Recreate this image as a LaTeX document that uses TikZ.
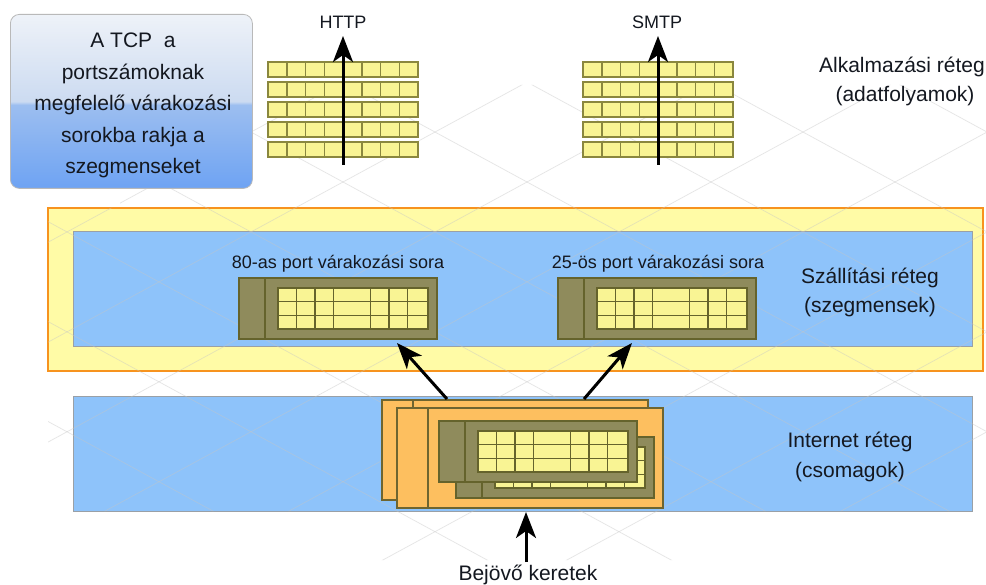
\documentclass[tikz,border=0pt]{standalone}
\usepackage{fontspec}
\setmainfont{Liberation Sans}
\usetikzlibrary{arrows.meta}
\definecolor{cellyel}{HTML}{F9F494}
\definecolor{celledge}{HTML}{8A873E}
\definecolor{olivefill}{HTML}{8F8B5C}
\definecolor{oliveedge}{HTML}{65632C}
\definecolor{layblue}{HTML}{8EC3FA}
\definecolor{layedge}{HTML}{9AA0A6}
\definecolor{transyel}{HTML}{FFFBA6}
\definecolor{transor}{HTML}{F7931E}
\definecolor{frameor}{HTML}{FDBF5F}
\definecolor{frameedge}{HTML}{6E6530}
\definecolor{infoT}{HTML}{EEF2F8}
\definecolor{infoM1}{HTML}{CCDBF1}
\definecolor{infoM2}{HTML}{9CBEF0}
\definecolor{infoB}{HTML}{6EA3F3}
\definecolor{txt}{HTML}{141820}
\pgfdeclareverticalshading{infoshade}{100bp}{color(0bp)=(infoB); color(25bp)=(infoB); color(49bp)=(infoM2); color(50bp)=(infoM1); color(75bp)=(infoT); color(100bp)=(infoT)}
\begin{document}
\begin{tikzpicture}[x=1pt,y=-1pt,
  big/.style={font=\fontsize{21}{25}\selectfont, text=txt, inner sep=0pt, anchor=base},
  small/.style={font=\fontsize{18}{22}\selectfont, text=txt, inner sep=0pt, anchor=base},
  arr/.style={line width=3pt, -{Stealth[length=26pt,width=20pt,inset=7pt]}},
  cell/.style={fill=cellyel, draw=celledge, line width=1.5pt},
  qbox/.style={fill=olivefill, draw=oliveedge, line width=1.5pt, inner sep=0pt, outer sep=0pt},
  frbox/.style={fill=frameor, draw=frameedge, line width=1.5pt, inner sep=0pt, outer sep=0pt},
  laybox/.style={fill=layblue, draw=layedge, line width=1pt, inner sep=0pt, outer sep=0pt, anchor=north west},
  latt/.style={draw=gray!45, line width=0.7pt, opacity=0.45},
  stackpic/.pic={
    \foreach \r in {0,...,4}{
      \foreach \c in {0,...,7}{
        \path[cell] ({\c*18.75},{\r*20}) rectangle ({(\c+1)*18.75},{\r*20+15});
      }
    }
  },
  queuepic/.pic={
    \node[qbox, minimum width=198pt, minimum height=61pt, anchor=north west] (-box) at (0,0) {};
    \draw[oliveedge, line width=1.5pt] (26,0) -- (26,61);
    \path[fill=cellyel, draw=oliveedge, line width=1.5pt] (39,10) rectangle (189,51);
    \foreach \yy in {23.67,37.33}{\draw[oliveedge, line width=1.5pt] (39,\yy) -- (189,\yy);}
    \foreach \xx in {57.5,76,94.5,131.5,150,168.5}{\draw[oliveedge, line width=1.5pt] (\xx,10) -- (\xx,51);}
  },
  framepic/.pic={
    \node[frbox, minimum width=266pt, minimum height=100pt, anchor=north west] (-box) at (0,0) {};
    \draw[frameedge, line width=1.5pt] (31,0) -- (31,100);
  }
]
\useasboundingbox (0,0) rectangle (986,585);
\fill[white] (0,0) rectangle (986,585);

% layer boxes
\node[fill=transyel, draw=transor, line width=2.5pt, inner sep=0pt, outer sep=0pt, anchor=north west,
      minimum width=935pt, minimum height=163pt] (transport) at (48,208) {};
\node[laybox, minimum width=899pt, minimum height=115pt] (transblue) at (73,232) {};
\node[laybox, minimum width=899pt, minimum height=114pt] (netblue) at (73,397) {};

% faint lattice
\begin{scope}
\clip (120,85) rectangle (986,208) (48,208) rectangle (986,511) (380,511) rectangle (680,560);
\foreach \k in {-6,...,8}{
  \draw[latt] ({343+184*\k-700},{182-0.543*700}) -- ({343+184*\k+700},{182+0.543*700});
  \draw[latt] ({343+184*\k-700},{182+0.543*700}) -- ({343+184*\k+700},{182-0.543*700});
}
\end{scope}

% info box
\node[draw=gray!55, line width=0.8pt, rounded corners=9pt, shading=infoshade, inner sep=0pt,
      minimum width=242pt, minimum height=174pt, anchor=north west] (info) at (10,14) {};
\node[big] (i1) at (133,48) {A TCP~~a};
\node[big] (i2) at (133,80) {portszámoknak};
\node[big] (i3) at (133,111) {megfelelő várakozási};
\node[big] (i4) at (133,143) {sorokba rakja a};
\node[big] (i5) at (133,174) {szegmenseket};

% application layer stacks
\pic (hstack) at (268,62) {stackpic};
\pic (sstack) at (583,62) {stackpic};
\node[small] (http) at (343,29) {HTTP};
\node[small] (smtp) at (657,29) {SMTP};
\coordinate (hbot) at (343,165);
\coordinate (sbot) at (658,165);
\draw[arr] (hbot) -- (343,36) coordinate (htip);
\draw[arr] (sbot) -- (658,36) coordinate (stip);

\node[big] (app1) at (902,73) {Alkalmazási réteg};
\node[big] (app2) at (905,102) {(adatfolyamok)};

% transport layer
\node[small] (l80) at (338,269) {80-as port várakozási sora};
\node[small] (l25) at (658,269) {25-ös port várakozási sora};
\pic (q80) at (239,278) {queuepic};
\pic (q25) at (558,278) {queuepic};
\node[big] (tr1) at (870,284) {Szállítási réteg};
\node[big] (tr2) at (870,313) {(szegmensek)};

% internet layer
\pic (fback) at (382,400) {framepic};
\pic (ffront) at (397,408) {framepic};
\pic (qback) at (456,437) {queuepic};
\pic (qfront) at (439,421) {queuepic};
\node[big] (in1) at (850,447) {Internet réteg};
\node[big] (in2) at (850,477) {(csomagok)};

% arrows to queues
\coordinate (upL) at (447,399);
\coordinate (upR) at (584,399);
\coordinate (tipL) at (397,343);
\coordinate (tipR) at (632,343);
\draw[arr] (upL) -- (tipL);
\draw[arr] (upR) -- (tipR);

% incoming frames
\node[big] (bej) at (528,580) {Bejövő keretek};
\coordinate (btail) at (526,562);
\coordinate (btip) at (526,512);
\draw[arr] (btail) -- (btip);
\end{tikzpicture}
\end{document}
